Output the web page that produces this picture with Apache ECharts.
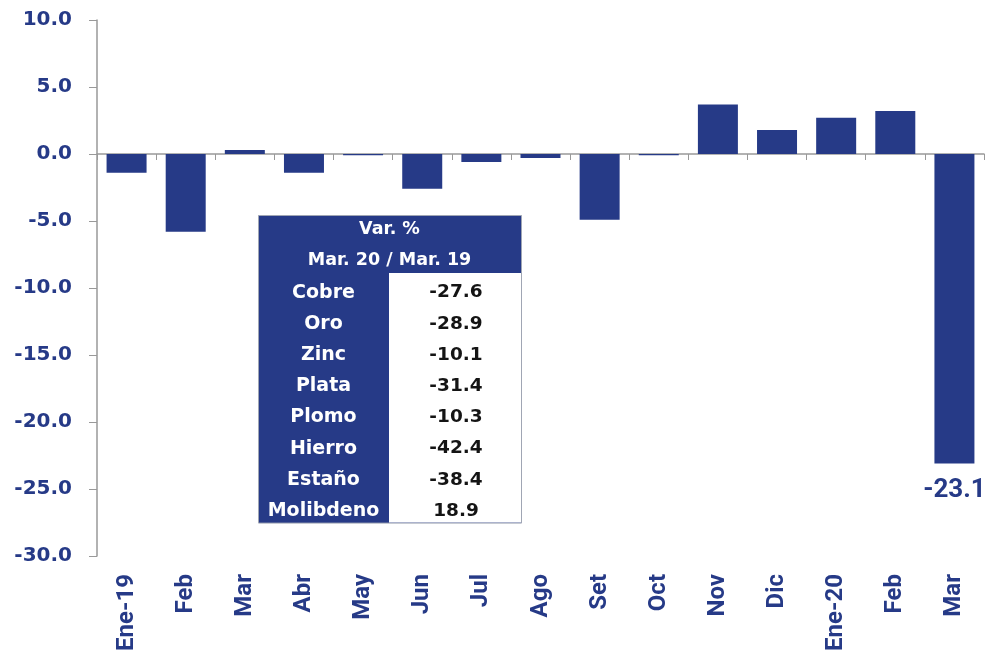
<!DOCTYPE html>
<html>
<head>
<meta charset="utf-8">
<script src="https://cdn.jsdelivr.net/npm/echarts@6/dist/echarts.min.js"></script>
<style>html,body{margin:0;padding:0;background:#fff}#c{width:985px;height:654px}</style>
</head>
<body>
<div id="c"></div>
<script>
const categories = ['Ene-19','Feb','Mar','Abr','May','Jun','Jul','Ago','Set','Oct','Nov','Dic','Ene-20','Feb','Mar'];
const values = [-1.4,-5.8,0.3,-1.4,-0.1,-2.6,-0.6,-0.3,-4.9,-0.1,3.7,1.8,2.7,3.2,-23.1];
const tableTitle = ['Var. %','Mar. 20 / Mar. 19'];
const metals = ['Cobre','Oro','Zinc','Plata','Plomo','Hierro','Estaño','Molibdeno'];
const metalVar = ['-27.6','-28.9','-10.1','-31.4','-10.3','-42.4','-38.4','18.9'];

const BLUE = '#263a87';
const FONT = '"DejaVu Sans", sans-serif';
const NARROW = 'Roboto, sans-serif';

// table graphic
const tx = 258, ty = 215, colW1 = 131, colW2 = 132, hdrH = 29, rowH = 31.2;
const g = [];
const totalH = hdrH*2 + rowH*metals.length;
g.push({type:'rect', left:tx, top:ty, shape:{width:colW1+colW2, height:totalH}, style:{fill:BLUE, stroke:'#a0a6b4', lineWidth:1}});
g.push({type:'rect', left:tx+colW1, top:ty+hdrH*2, shape:{width:colW2, height:rowH*metals.length}, style:{fill:'#ffffff'}});
tableTitle.forEach((t,i)=>{
  g.push({type:'text', x:tx+(colW1+colW2)/2, y:ty+hdrH*i+hdrH/2+(i?2:0), style:{text:t, fill:'#fff', font:'bold 17.5px '+FONT, textAlign:'center', textVerticalAlign:'middle'}});
});
metals.forEach((m,i)=>{
  const cy = ty+hdrH*2+rowH*i+rowH/2+4;
  g.push({type:'text', x:tx+colW1/2, y:cy, style:{text:m, fill:'#fff', font:'bold 19px '+FONT, textAlign:'center', textVerticalAlign:'middle'}});
  g.push({type:'text', x:tx+colW1+colW2/2+1, y:cy, style:{text:metalVar[i], fill:'#141414', font:'bold 18.5px '+FONT, textAlign:'center', textVerticalAlign:'middle'}});
});

const chart = echarts.init(document.getElementById('c'));
chart.setOption({
  animation:false,
  grid:{left:97, right:1, top:20, bottom:98, containLabel:false, outerBoundsMode:'none'},
  xAxis:[{
    type:'category', data:categories,
    axisLine:{onZero:true, lineStyle:{color:'#999', width:1.5}},
    axisTick:{show:true, length:6, lineStyle:{color:'#999'}, inside:false},
    axisLabel:{show:false}
  },{
    type:'category', data:categories, position:'bottom',
    axisLine:{show:false, onZero:false}, axisTick:{show:false},
    axisLabel:{show:true, rotate:90, color:BLUE, fontWeight:'bold', fontSize:24, fontFamily:NARROW, margin:18, interval:0}
  }],
  yAxis:{
    type:'value', min:-30, max:10, interval:5,
    axisLine:{show:true, lineStyle:{color:'#999', width:1.5}},
    axisTick:{show:true, length:8, lineStyle:{color:'#999'}},
    splitLine:{show:false},
    axisLabel:{color:BLUE, fontWeight:'bold', fontSize:20, fontFamily:FONT, margin:25, formatter:v=>v.toFixed(1)}
  },
  series:[{
    type:'bar', data:values.map((v,i)=> i===values.length-1 ? {value:v, label:{show:true, position:'bottom', distance:14, formatter:p=>p.value.toFixed(1), color:BLUE, fontSize:26, fontWeight:'bold', fontFamily:NARROW}} : v),
    barWidth:40, itemStyle:{color:BLUE}, xAxisIndex:0
  }],
  graphic:g
});
</script>
</body>
</html>
